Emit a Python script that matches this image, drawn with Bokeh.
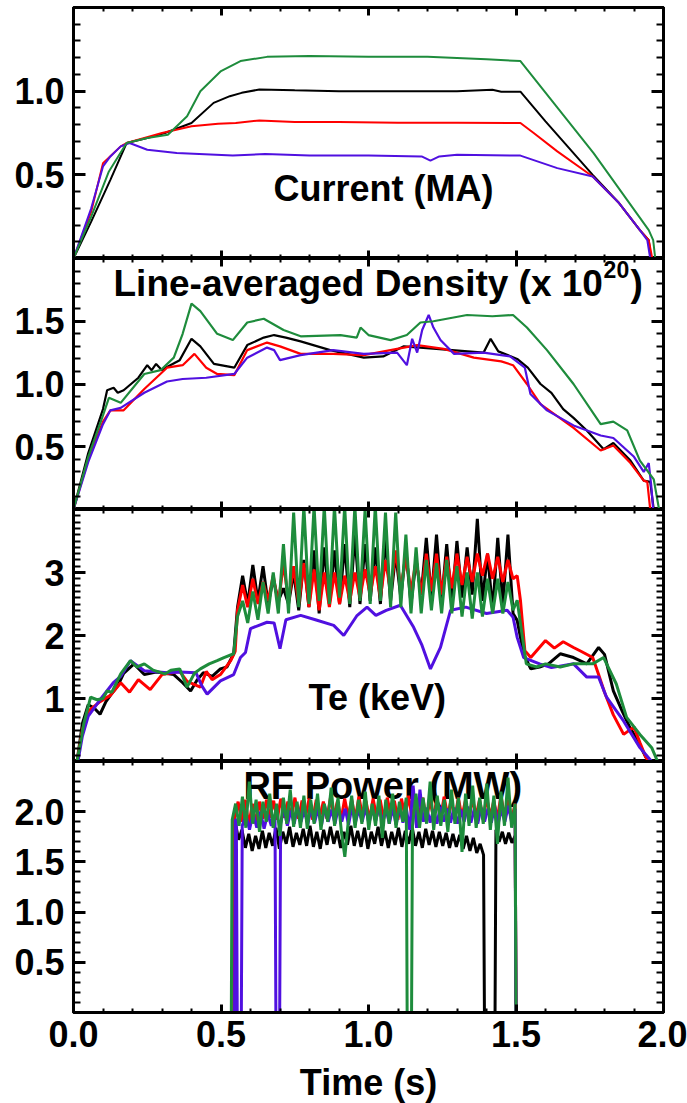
import numpy as np
from bokeh.plotting import figure
from bokeh.layouts import column
from bokeh.models import (Range1d, LinearAxis, FixedTicker, PrintfTickFormatter, Label,
                          CustomLabelingPolicy)
from bokeh.embed import file_html
from bokeh.resources import INLINE

BLACK, RED, BLUE, GREEN = "#000000", "#ff0000", "#5010e0", "#1e8c3c"
TEXT_FONT = "Liberation Sans"

# ---------------- Plasma current (MA): (time s, value) ----------------
CUR_BLACK = [(0.0, 0.0), (0.06, 0.22), (0.125, 0.47), (0.18, 0.69), (0.25, 0.72), (0.31, 0.75),
             (0.40, 0.81), (0.475, 0.93), (0.53, 0.97), (0.57, 0.99), (0.63, 1.01), (0.75, 1.005),
             (0.90, 1.0), (1.10, 1.0), (1.30, 1.0), (1.42, 1.008), (1.45, 0.997), (1.515, 0.997),
             (1.60, 0.82), (1.76, 0.50), (1.85, 0.33), (1.92, 0.17), (1.95, 0.11), (1.958, 0.0), (2.0, 0.0)]
CUR_RED = [(0.0, 0.0), (0.06, 0.28), (0.10, 0.57), (0.16, 0.67), (0.18, 0.69), (0.30, 0.75),
           (0.40, 0.79), (0.49, 0.805), (0.55, 0.81), (0.63, 0.825), (0.75, 0.815), (0.90, 0.815),
           (1.10, 0.812), (1.30, 0.812), (1.515, 0.81), (1.56, 0.75), (1.64, 0.64), (1.76, 0.49),
           (1.85, 0.33), (1.92, 0.17), (1.95, 0.11), (1.962, 0.0), (2.0, 0.0)]
CUR_BLUE = [(0.0, 0.0), (0.06, 0.30), (0.10, 0.55), (0.125, 0.61), (0.16, 0.67), (0.19, 0.69),
            (0.25, 0.65), (0.35, 0.63), (0.54, 0.615), (0.65, 0.625), (0.80, 0.615), (1.00, 0.615),
            (1.18, 0.61), (1.21, 0.585), (1.24, 0.61), (1.30, 0.62), (1.515, 0.615), (1.64, 0.54),
            (1.76, 0.49), (1.85, 0.33), (1.92, 0.17), (1.945, 0.11), (1.955, 0.0), (2.0, 0.0)]
CUR_GREEN = [(0.0, 0.0), (0.06, 0.25), (0.12, 0.52), (0.18, 0.69), (0.25, 0.72), (0.32, 0.74),
             (0.385, 0.85), (0.43, 1.00), (0.50, 1.12), (0.566, 1.18), (0.656, 1.205), (0.80, 1.21),
             (1.00, 1.205), (1.20, 1.205), (1.40, 1.19), (1.515, 1.18), (1.763, 0.63), (1.95, 0.17),
             (1.965, 0.11), (1.972, 0.0), (2.0, 0.0)]

# ---------------- Line-averaged density (1e20 m^-3) ----------------
DEN_BLACK = [(0.0, 0.0), (0.05, 0.45), (0.10, 0.80), (0.114, 0.95), (0.136, 0.97), (0.15, 0.93),
             (0.17, 0.95), (0.20, 1.01), (0.22, 1.05), (0.25, 1.15), (0.265, 1.11), (0.28, 1.16),
             (0.30, 1.11), (0.32, 1.14), (0.36, 1.19), (0.40, 1.36), (0.43, 1.30), (0.476, 1.16),
             (0.545, 1.13), (0.589, 1.31), (0.645, 1.37), (0.68, 1.39), (0.72, 1.37), (0.77, 1.34),
             (0.87, 1.27), (0.984, 1.21), (1.05, 1.22), (1.12, 1.30), (1.23, 1.28), (1.39, 1.25),
             (1.414, 1.36), (1.44, 1.26), (1.504, 1.20), (1.54, 1.13), (1.583, 1.00), (1.62, 0.93),
             (1.66, 0.80), (1.695, 0.73), (1.74, 0.63), (1.797, 0.48), (1.83, 0.53), (1.888, 0.39),
             (1.933, 0.23), (1.955, 0.22), (1.967, 0.0), (2.0, 0.0)]
DEN_RED = [(0.0, 0.0), (0.05, 0.40), (0.10, 0.70), (0.125, 0.79), (0.17, 0.79), (0.24, 0.96),
           (0.317, 1.13), (0.37, 1.15), (0.41, 1.24), (0.45, 1.13), (0.487, 1.08), (0.545, 1.07),
           (0.589, 1.27), (0.656, 1.33), (0.70, 1.30), (0.77, 1.24), (0.88, 1.24), (0.984, 1.23),
           (1.165, 1.31), (1.255, 1.28), (1.357, 1.21), (1.45, 1.18), (1.49, 1.15), (1.537, 1.00),
           (1.583, 0.84), (1.695, 0.65), (1.787, 0.47), (1.83, 0.51), (1.888, 0.37), (1.933, 0.23),
           (1.945, 0.22), (1.955, 0.0), (2.0, 0.0)]
DEN_BLUE = [(0.0, 0.0), (0.05, 0.38), (0.10, 0.68), (0.125, 0.79), (0.16, 0.81), (0.24, 0.93),
            (0.317, 1.02), (0.37, 1.04), (0.45, 1.05), (0.545, 1.08), (0.589, 1.21), (0.656, 1.29),
            (0.68, 1.27), (0.70, 1.19), (0.77, 1.23), (0.88, 1.27), (0.984, 1.24), (1.097, 1.25),
            (1.13, 1.15), (1.148, 1.36), (1.165, 1.25), (1.182, 1.43), (1.204, 1.55), (1.22, 1.45),
            (1.244, 1.35), (1.29, 1.24), (1.39, 1.25), (1.48, 1.22), (1.53, 1.13), (1.549, 0.92),
            (1.605, 0.79), (1.695, 0.67), (1.787, 0.59), (1.83, 0.57), (1.90, 0.42), (1.933, 0.30),
            (1.95, 0.37), (1.958, 0.20), (1.965, 0.0), (2.0, 0.0)]
DEN_GREEN = [(0.0, 0.0), (0.05, 0.42), (0.10, 0.75), (0.12, 0.89), (0.16, 0.85), (0.24, 1.08),
             (0.295, 1.11), (0.34, 1.21), (0.37, 1.40), (0.40, 1.64), (0.43, 1.58), (0.487, 1.40),
             (0.54, 1.35), (0.589, 1.49), (0.645, 1.52), (0.712, 1.43), (0.77, 1.38), (0.905, 1.39),
             (0.96, 1.37), (0.973, 1.45), (1.0, 1.39), (1.075, 1.35), (1.13, 1.39), (1.176, 1.49),
             (1.22, 1.50), (1.334, 1.55), (1.42, 1.54), (1.49, 1.55), (1.537, 1.45), (1.605, 1.27),
             (1.695, 1.00), (1.787, 0.68), (1.83, 0.70), (1.877, 0.63), (1.92, 0.39), (1.967, 0.24),
             (1.985, 0.0), (2.0, 0.0)]

# ---------------- Electron temperature (keV) ----------------
# ramp-up / ramp-down samples, plus the sawtoothing flat-top sampled on an even grid
TE_OSC_START, TE_OSC_END = 0.556, 1.49
TE_BLACK_PRE = [(0.012, 0.0), (0.03, 0.6), (0.05, 0.9), (0.07, 0.85), (0.09, 0.75), (0.11, 0.95),
                (0.125, 1.05), (0.15, 1.2), (0.17, 1.4), (0.205, 1.55), (0.24, 1.38), (0.28, 1.42),
                (0.34, 1.38), (0.37, 1.25), (0.397, 1.12), (0.42, 1.30), (0.44, 1.41), (0.47, 1.35),
                (0.498, 1.47), (0.52, 1.50), (0.543, 1.71)]
TE_BLACK_OSC = [2.45, 2.95, 2.50, 3.12, 2.55, 3.10, 2.50, 2.90, 2.55, 2.75,
                2.50, 3.00, 2.40, 3.20, 2.45, 3.35, 2.35, 3.40, 2.50, 3.35,
                2.50, 3.45, 2.45, 3.60, 2.50, 3.45, 2.55, 3.40, 2.50, 3.55,
                2.55, 3.30, 2.60, 3.35, 2.50, 3.20, 2.65, 3.55, 2.60, 3.60,
                2.55, 3.45, 2.50, 3.50, 2.60, 3.40, 2.65, 3.85, 2.55, 3.30,
                2.40, 3.55, 2.50, 3.60, 2.35]
TE_BLACK_POST = [(1.504, 2.24), (1.526, 1.71), (1.55, 1.47), (1.58, 1.50), (1.61, 1.55), (1.65, 1.71),
                 (1.695, 1.65), (1.74, 1.55), (1.78, 1.81), (1.80, 1.70), (1.83, 1.12), (1.86, 0.80),
                 (1.885, 0.55), (1.91, 0.35), (1.94, 0.07), (1.96, 0.0), (2.0, 0.0)]

TE_RED_PRE = [(0.012, 0.0), (0.03, 0.5), (0.05, 0.8), (0.09, 0.95), (0.125, 1.05), (0.16, 1.25),
              (0.19, 1.1), (0.22, 1.3), (0.26, 1.14), (0.30, 1.38), (0.36, 1.43), (0.385, 1.27),
              (0.43, 1.18), (0.45, 1.43), (0.47, 1.30), (0.498, 1.38), (0.533, 1.60), (0.548, 1.75)]
TE_RED_OSC = [2.40, 2.80, 2.45, 2.90, 2.50, 2.85, 2.55, 2.95, 2.50, 3.15,
              2.55, 3.10, 2.50, 3.15, 2.45, 3.05, 2.40, 3.00, 2.45, 3.00,
              2.50, 2.95, 2.55, 3.00, 2.60, 3.05, 2.65, 3.10, 2.60, 3.20,
              2.70, 3.35, 2.75, 3.25, 2.70, 3.20, 2.65, 3.30, 2.70, 3.30,
              2.65, 3.25, 2.75, 3.30, 2.80, 3.25, 2.85, 3.30, 2.95, 3.30,
              2.90, 3.25, 2.85, 3.20, 2.90]
TE_RED_POST = [(1.504, 2.95), (1.515, 2.56), (1.53, 1.76), (1.55, 1.65), (1.60, 1.92), (1.63, 1.80),
               (1.66, 1.90), (1.695, 1.81), (1.72, 1.75), (1.76, 1.65), (1.78, 1.38), (1.80, 1.10),
               (1.83, 0.74), (1.865, 0.43), (1.90, 0.55), (1.92, 0.30), (1.94, 0.07), (1.95, 0.0),
               (2.0, 0.0)]

TE_GREEN_PRE = [(0.012, 0.0), (0.035, 0.6), (0.058, 1.02), (0.08, 0.98), (0.10, 1.0), (0.114, 1.12),
                (0.13, 1.10), (0.16, 1.39), (0.193, 1.60), (0.215, 1.50), (0.24, 1.55), (0.27, 1.45),
                (0.31, 1.39), (0.33, 1.45), (0.36, 1.47), (0.385, 1.18), (0.41, 1.40), (0.43, 1.47),
                (0.46, 1.55), (0.487, 1.60), (0.51, 1.65), (0.543, 1.71)]
TE_GREEN_OSC = [2.30, 2.55, 2.20, 2.70, 2.25, 2.85, 2.35, 3.00, 2.35, 3.45,
                2.35, 3.95, 2.45, 4.05, 2.50, 4.05, 2.55, 4.05, 2.50, 4.05,
                2.60, 4.05, 2.50, 4.05, 2.55, 4.00, 2.50, 4.05, 2.55, 3.95,
                2.45, 3.95, 2.45, 3.60, 2.35, 3.40, 2.35, 3.20, 2.40, 3.15,
                2.35, 3.20, 2.35, 3.10, 2.30, 3.00, 2.27, 3.00, 2.30, 2.90,
                2.35, 2.90, 2.35, 2.85, 2.40]
TE_GREEN_POST = [(1.504, 2.56), (1.52, 2.03), (1.535, 1.55), (1.57, 1.50), (1.60, 1.55), (1.65, 1.50),
                 (1.695, 1.55), (1.76, 1.55), (1.797, 1.65), (1.84, 1.23), (1.875, 0.70), (1.92, 0.43),
                 (1.96, 0.22), (1.98, 0.0), (2.0, 0.0)]

TE_BLUE = [(0.015, 0.0), (0.03, 0.4), (0.05, 0.72), (0.09, 0.98), (0.135, 1.25), (0.16, 1.35),
           (0.193, 1.60), (0.24, 1.44), (0.317, 1.41), (0.36, 1.42), (0.415, 1.41), (0.435, 1.2),
           (0.453, 1.07), (0.498, 1.28), (0.543, 1.38), (0.566, 1.65), (0.583, 1.73), (0.60, 2.11),
           (0.656, 2.21), (0.68, 2.20), (0.70, 1.79), (0.72, 2.25), (0.77, 2.32), (0.82, 2.25),
           (0.882, 2.16), (0.916, 2.00), (0.96, 2.31), (0.995, 2.45), (1.025, 2.32), (1.06, 2.40),
           (1.108, 2.48), (1.153, 2.13), (1.18, 1.86), (1.21, 1.47), (1.244, 1.81), (1.278, 2.40),
           (1.33, 2.45), (1.40, 2.35), (1.47, 2.40), (1.49, 2.29), (1.504, 1.97), (1.526, 1.65),
           (1.58, 1.55), (1.62, 1.49), (1.695, 1.55), (1.74, 1.34), (1.78, 1.34), (1.807, 1.02),
           (1.865, 0.64), (1.92, 0.22), (1.96, 0.0), (2.0, 0.0)]

# ---------------- RF power (MW): noisy on-periods sampled on even grids ----------------
RF_BLACK_ON1 = (0.548, 1.39)
RF_BLACK_A = [1.90, 1.72, 1.82, 1.64, 1.78, 1.61, 1.76, 1.63, 1.81, 1.64,
              1.79, 1.66, 1.84, 1.63, 1.80, 1.68, 1.85, 1.65, 1.79, 1.67,
              1.83, 1.66, 1.86, 1.65, 1.80, 1.63, 1.82, 1.67, 1.85, 1.68,
              1.81, 1.64, 1.80, 1.67, 1.86, 1.66, 1.81, 1.65, 1.84, 1.63,
              1.80, 1.68, 1.85, 1.66, 1.81, 1.64, 1.80, 1.67, 1.84, 1.65,
              1.81, 1.68, 1.85, 1.66, 1.80, 1.64, 1.83, 1.67, 1.81, 1.65,
              1.80, 1.66, 1.79, 1.64, 1.78, 1.65, 1.77, 1.63, 1.76, 1.61,
              1.74, 1.59, 1.68, 1.57]
RF_BLACK_ON2 = (1.432, 1.497)
RF_BLACK_B = [1.82, 1.70, 1.80, 1.68, 1.79, 1.69, 1.76]

RF_RED_ON = (0.546, 1.497)
RF_RED = [1.95, 2.10, 1.90, 2.12, 1.86, 2.08, 1.88, 2.10, 1.93, 2.12,
          1.94, 2.11, 1.92, 2.13, 1.94, 2.10, 1.95, 2.14, 1.93, 2.11,
          1.95, 2.13, 1.92, 2.12, 1.95, 2.10, 1.93, 2.14, 1.96, 2.11,
          1.92, 2.13, 1.95, 2.12, 1.93, 2.15, 1.96, 2.11, 1.92, 2.13,
          1.95, 2.12, 1.93, 2.14, 1.96, 2.11, 1.92, 2.13, 1.95, 2.16,
          1.93, 2.12, 1.96, 2.14, 1.92, 2.11, 1.95, 2.13, 1.93, 2.15,
          1.96, 2.12, 1.92, 2.14, 1.95, 2.11, 1.93, 2.13, 1.96, 2.12,
          1.92, 2.14, 1.95, 2.11, 1.93, 2.16, 1.96, 2.12, 1.92, 2.08]

RF_BLUE_BLIP = (0.549, 1.92)
RF_BLUE_ON1 = (0.572, 0.683)
RF_BLUE_A = [1.86, 1.97, 1.82, 1.99, 1.84, 2.00, 1.83, 1.98, 1.86, 1.97]
RF_BLUE_ON2 = (0.702, 1.497)
RF_BLUE_B = [1.88, 2.03, 1.86, 2.01, 1.88, 2.05, 1.90, 2.02, 1.87, 2.04,
             1.89, 2.03, 1.86, 2.05, 1.90, 2.02, 1.88, 2.04, 1.90, 2.03,
             1.87, 2.05, 1.89, 2.02, 1.90, 2.04, 1.88, 2.03, 1.91, 2.05,
             1.89, 2.03, 1.88, 2.04, 1.87, 2.05, 1.89, 2.03, 1.82, 2.26,
             1.84, 2.22, 1.90, 2.04, 1.89, 2.02, 1.88, 2.05, 1.90, 2.03,
             1.89, 2.04, 1.88, 2.02, 1.90, 2.05, 1.89, 2.03, 1.88, 2.04,
             1.90, 2.03, 1.89, 2.05, 1.88, 2.02, 1.90, 2.06, 1.89, 2.03]

RF_GREEN_ON1 = (0.538, 1.128)
RF_GREEN_A = [1.92, 2.08, 1.86, 2.15, 1.84, 2.30, 1.88, 2.12, 1.80, 2.10,
              1.90, 2.18, 1.84, 2.08, 1.76, 2.14, 1.88, 2.22, 1.85, 2.10,
              1.84, 2.16, 1.83, 2.12, 1.88, 2.18, 1.82, 2.08, 1.90, 2.24,
              1.86, 2.14, 1.80, 1.55, 1.90, 2.16, 1.84, 2.12, 1.88, 2.20,
              1.82, 2.08, 1.86, 2.16, 1.74, 2.12, 1.88, 2.18, 1.84, 2.10,
              1.90, 2.14]
RF_GREEN_ON2 = (1.149, 1.497)
RF_GREEN_B = [1.86, 2.18, 1.84, 2.14, 1.88, 2.30, 1.82, 2.16, 1.86, 2.12,
              1.80, 2.22, 1.88, 2.14, 1.60, 2.18, 1.86, 2.26, 1.84, 2.14,
              1.88, 2.28, 1.82, 2.16, 1.68, 2.20, 1.86, 2.34, 1.84, 2.08]

X_TICKS = [0.0, 0.5, 1.0, 1.5, 2.0]

# a labeling policy that keeps no tick labels (for the tick-only frame sides)
NO_LABELS = "for (const i of indices) { indices.unset(i) }\nreturn indices"


def pairs(seq):
    return [p[0] for p in seq], [p[1] for p in seq]


def sampled(span, vals):
    return list(np.linspace(span[0], span[1], len(vals))), list(vals)


def te_trace(pre, osc, post):
    t0, v0 = pairs(pre)
    t1, v1 = sampled((TE_OSC_START, TE_OSC_END), osc)
    t2, v2 = pairs(post)
    return t0 + t1 + t2, v0 + v1 + v2


def rf_trace(pieces):
    """pieces: list of (span, values); the trace sits at zero between on-periods."""
    ts, vs = [0.0], [0.0]
    for span, vals in pieces:
        t, v = sampled(span, vals)
        ts += [span[0] - 0.003] + t + [span[1] + 0.003]
        vs += [0.0] + v + [0.0]
    ts.append(2.0)
    vs.append(0.0)
    return ts, vs


def minor_list(end, majors):
    out = []
    for i in range(int(round(end * 10)) + 1):
        v = round(i * 0.1, 1)
        if all(abs(v - m) > 1e-6 for m in majors):
            out.append(v)
    return out


def style_axis(ax, tick_in, minor_in, labelled):
    ax.axis_line_width = 3
    ax.axis_line_color = "black"
    ax.major_tick_in = tick_in
    ax.major_tick_out = 0
    ax.minor_tick_in = minor_in
    ax.minor_tick_out = 0
    ax.major_tick_line_width = 3
    ax.minor_tick_line_width = 2
    ax.major_tick_line_color = "black"
    ax.minor_tick_line_color = "black"
    if labelled:
        ax.major_label_text_font = TEXT_FONT
        ax.major_label_text_font_style = "bold"
        ax.major_label_text_font_size = "36px"
        ax.major_label_text_color = "black"
    else:
        ax.major_label_policy = CustomLabelingPolicy(code=NO_LABELS)
        ax.major_label_text_font_size = "0px"
        ax.major_label_standoff = 0


def panel(y_end, y_major, y_fmt, frame_h, top, bottom, x_labels=False):
    p = figure(frame_width=590, frame_height=frame_h,
               x_range=Range1d(0, 2), y_range=Range1d(0, y_end),
               x_axis_type=None, y_axis_type=None,
               output_backend="svg", toolbar_location=None,
               min_border_left=73, min_border_right=24,
               min_border_top=top, min_border_bottom=bottom,
               outline_line_color="black", outline_line_width=3,
               background_fill_color="white", border_fill_color="white")
    yt = FixedTicker(ticks=y_major, minor_ticks=minor_list(y_end, y_major))
    xt = FixedTicker(ticks=X_TICKS, minor_ticks=minor_list(2.0, X_TICKS))

    left = LinearAxis(ticker=yt, formatter=PrintfTickFormatter(format=y_fmt))
    style_axis(left, 12, 7, True)
    left.major_label_standoff = 9
    p.add_layout(left, "left")

    right = LinearAxis(ticker=yt)
    style_axis(right, 12, 7, False)
    p.add_layout(right, "right")

    above = LinearAxis(ticker=xt)
    style_axis(above, 8, 4, False)
    p.add_layout(above, "above")

    below = LinearAxis(ticker=xt, formatter=PrintfTickFormatter(format="%.1f"))
    style_axis(below, 8, 4, x_labels)
    if x_labels:
        below.major_label_standoff = 8
        below.axis_label = "Time (s)"
        below.axis_label_text_font = TEXT_FONT
        below.axis_label_text_font_style = "bold"
        below.axis_label_text_font_size = "36px"
        below.axis_label_text_color = "black"
        below.axis_label_standoff = 12
    p.add_layout(below, "below")
    return p


def title(p, x, y, text, size="36px", level="annotation"):
    p.add_layout(Label(x=x, y=y, text=text, text_font=TEXT_FONT, text_font_size=size,
                       text_font_style="bold", text_color="black", text_align="left",
                       text_baseline="alphabetic", level=level))


# ---- panel 1: current ----
p1 = panel(1.5, [0.5, 1.0], "%.1f", 251, 7, 0)
for data, col in ((CUR_BLACK, BLACK), (CUR_RED, RED), (CUR_BLUE, BLUE), (CUR_GREEN, GREEN)):
    t, v = pairs(data)
    p1.line(t, v, line_color=col, line_width=2)
title(p1, 0.678, 0.419, "Current (MA)")

# ---- panel 2: density ----
p2 = panel(2.0, [0.5, 1.0, 1.5], "%.1f", 251, 0, 0)
for data, col in ((DEN_BLACK, BLACK), (DEN_RED, RED), (DEN_BLUE, BLUE), (DEN_GREEN, GREEN)):
    t, v = pairs(data)
    p2.line(t, v, line_color=col, line_width=2.2)
title(p2, 0.1356, 1.80, "Line-averaged Density (x 10", size="37px")
title(p2, 1.797, 1.91, "20", size="23px")
title(p2, 1.888, 1.80, ")", size="37px")

# ---- panel 3: electron temperature ----
p3 = panel(4.0, [1, 2, 3], "%d", 252, 0, 0)
tb, vb = te_trace(TE_BLACK_PRE, TE_BLACK_OSC, TE_BLACK_POST)
tr, vr = te_trace(TE_RED_PRE, TE_RED_OSC, TE_RED_POST)
tu, vu = pairs(TE_BLUE)
tg, vg = te_trace(TE_GREEN_PRE, TE_GREEN_OSC, TE_GREEN_POST)
p3.line(tb, vb, line_color=BLACK, line_width=3)
p3.line(tr, vr, line_color=RED, line_width=3)
p3.line(tu, vu, line_color=BLUE, line_width=3)
p3.line(tg, vg, line_color=GREEN, line_width=3)
title(p3, 0.797, 1.02, "Te (keV)")

# ---- panel 4: RF power ----
p4 = panel(2.5, [0.5, 1.0, 1.5, 2.0], "%.1f", 251, 0, 91, x_labels=True)
title(p4, 0.576, 2.26, "RF Power (MW)", size="38px", level="underlay")
tk, vk = rf_trace([(RF_BLACK_ON1, RF_BLACK_A), (RF_BLACK_ON2, RF_BLACK_B)])
tr4, vr4 = rf_trace([(RF_RED_ON, RF_RED)])
tu4, vu4 = rf_trace([((RF_BLUE_BLIP[0], RF_BLUE_BLIP[0] + 0.003), [RF_BLUE_BLIP[1], RF_BLUE_BLIP[1]]),
                     (RF_BLUE_ON1, RF_BLUE_A), (RF_BLUE_ON2, RF_BLUE_B)])
tg4, vg4 = rf_trace([(RF_GREEN_ON1, RF_GREEN_A), (RF_GREEN_ON2, RF_GREEN_B)])
p4.line(tk, vk, line_color=BLACK, line_width=3)
p4.line(tr4, vr4, line_color=RED, line_width=3)
p4.line(tu4, vu4, line_color=BLUE, line_width=3)
p4.line(tg4, vg4, line_color=GREEN, line_width=3)

layout = column(p1, p2, p3, p4, spacing=0)
open("out.html", "w").write(file_html(layout, INLINE))
